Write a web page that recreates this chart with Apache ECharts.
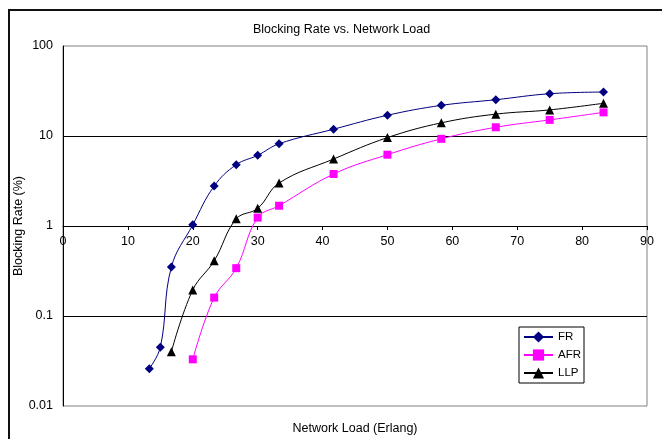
<!DOCTYPE html>
<html>
<head>
<meta charset="utf-8">
<script src="https://cdn.jsdelivr.net/npm/echarts@6/dist/echarts.min.js"></script>
<style>
  html, body { margin: 0; padding: 0; background: #fff; }
  #chart { width: 662px; height: 439px; }
</style>
</head>
<body>
<div id="chart"></div>
<script>
// Network load (Erlang) and blocking rate (%) per scheme
const loadFR = [13.3, 15, 16.7, 20, 23.3, 26.7, 30, 33.3, 41.7, 50, 58.3, 66.7, 75, 83.3]
const rateFR = [0.026, 0.045, 0.35, 1.03, 2.78, 4.8, 6.1, 8.2, 11.9, 17, 21.9, 25.3, 29.5, 30.8]

const loadAFR = [20, 23.3, 26.7, 30, 33.3, 41.7, 50, 58.3, 66.7, 75, 83.3]
const rateAFR = [0.033, 0.16, 0.34, 1.24, 1.68, 3.78, 6.2, 9.3, 12.5, 15.1, 18.3]

const loadLLP = [16.7, 20, 23.3, 26.7, 30, 33.3, 41.7, 50, 58.3, 66.7, 75, 83.3]
const rateLLP = [0.04, 0.195, 0.41, 1.2, 1.57, 3.0, 5.55, 9.6, 14, 17.5, 19.5, 23.1]

const seriesNames = ['FR', 'AFR', 'LLP']

const zip = (xs, ys) => xs.map((x, i) => [x, ys[i]])

const font = 'Arial, "Liberation Sans", sans-serif'

const chart = echarts.init(document.getElementById('chart'))

chart.setOption({
  backgroundColor: '#fff',
  animation: false,
  textStyle: { fontFamily: font },
  graphic: [
    {
      type: 'rect',
      shape: { x: 9, y: 10, width: 700, height: 500 },
      style: { fill: 'none', stroke: '#111', lineWidth: 2 },
      z: -1
    }
  ],
  title: {
    text: 'Blocking Rate vs. Network Load',
    left: 253,
    top: 23,
    padding: 0,
    textStyle: { fontSize: 12.5, fontWeight: 'normal', color: '#000', fontFamily: font }
  },
  legend: {
    data: seriesNames,
    orient: 'vertical',
    left: 519,
    top: 327,
    padding: [4, 3, 4, 4],
    itemWidth: 29,
    itemHeight: 14,
    itemGap: 6,
    borderColor: '#000',
    borderWidth: 1,
    backgroundColor: '#fff',
    textStyle: { fontSize: 11.5, color: '#000', fontFamily: font }
  },
  grid: {
    left: 63,
    top: 46,
    right: 15,
    bottom: 33,
    outerBoundsMode: 'none',
    containLabel: false,
    show: true,
    borderColor: '#808080',
    borderWidth: 1,
    backgroundColor: '#fff'
  },
  xAxis: {
    type: 'value',
    min: 0,
    max: 90,
    interval: 10,
    offset: -180,
    name: 'Network Load (Erlang)',
    nameLocation: 'middle',
    nameGap: 196,
    nameMoveOverlap: false,
    nameTextStyle: { fontSize: 12.5, color: '#000', fontFamily: font },
    axisLine: { show: true, lineStyle: { color: '#000', width: 1 } },
    axisTick: { show: true, length: 4, lineStyle: { color: '#000' } },
    axisLabel: { fontSize: 12.5, color: '#000', margin: 9, fontFamily: font },
    splitLine: { show: false }
  },
  yAxis: {
    type: 'log',
    logBase: 10,
    min: 0.01,
    max: 100,
    name: 'Blocking Rate (%)',
    nameLocation: 'middle',
    nameGap: 38,
    nameMoveOverlap: false,
    nameTextStyle: { fontSize: 12.5, color: '#000', fontFamily: font },
    axisLine: { show: true, lineStyle: { color: '#000', width: 1 } },
    axisTick: { show: false },
    axisLabel: {
      fontSize: 12.5,
      color: '#000',
      margin: 10,
      fontFamily: font,
      formatter: (v) => String(v)
    },
    splitLine: {
      show: true,
      showMinLine: false,
      showMaxLine: false,
      lineStyle: { color: '#000', width: 1 }
    }
  },
  series: [
    {
      name: 'FR',
      type: 'line',
      data: zip(loadFR, rateFR),
      smooth: 0.4,
      symbol: 'diamond',
      symbolSize: 9,
      color: '#000080',
      lineStyle: { width: 1, color: '#000080' },
      itemStyle: { color: '#000080' }
    },
    {
      name: 'AFR',
      type: 'line',
      data: zip(loadAFR, rateAFR),
      smooth: 0.4,
      symbol: 'rect',
      symbolSize: 8,
      color: '#ff00ff',
      lineStyle: { width: 1, color: '#ff00ff' },
      itemStyle: { color: '#ff00ff' }
    },
    {
      name: 'LLP',
      type: 'line',
      data: zip(loadLLP, rateLLP),
      smooth: 0.4,
      symbol: 'triangle',
      symbolSize: 9,
      color: '#000',
      lineStyle: { width: 1, color: '#000' },
      itemStyle: { color: '#000' }
    }
  ]
})
</script>
</body>
</html>
